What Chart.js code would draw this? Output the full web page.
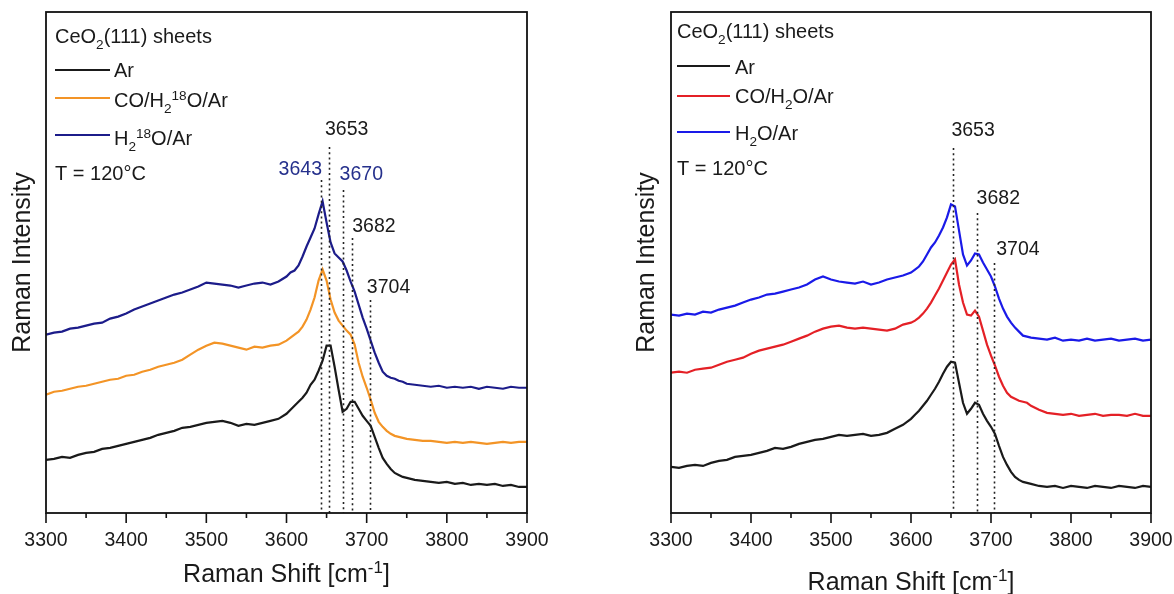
<!DOCTYPE html>
<html>
<head>
<meta charset="utf-8">
<title>Raman spectra - CeO2(111) sheets</title>
<script src="https://cdn.jsdelivr.net/npm/chart.js@4.4.1/dist/chart.umd.min.js"></script>
<style>
  body { margin: 0; background: #fff; }
  #wrap { position: relative; width: 1174px; height: 594px; }
  #wrap canvas { position: absolute; top: 0; }
</style>
</head>
<body>
<div id="wrap">
  <canvas id="leftChart" width="587" height="594" style="left:0"></canvas>
  <canvas id="rightChart" width="587" height="594" style="left:587px"></canvas>
</div>
<script>
// Raman shift grid (cm-1), finer around the OH bands
const shift = [3300,3310,3320,3330,3340,3350,3360,3370,3380,3390,
  3400,3410,3420,3430,3440,3450,3460,3470,3480,3490,
  3500,3510,3520,3530,3540,3550,3560,3570,3580,3590,
  3600,3605,3610,3615,3620,3625,3630,3635,3640,3645,
  3650,3655,3660,3665,3670,3675,3680,3685,3690,3695,
  3700,3705,3710,3715,3720,3725,3730,3735,3740,3745,
  3750,3760,3770,3780,3790,3800,3810,3820,3830,3840,
  3850,3860,3870,3880,3890,3900];

// left panel: isotope exchange with H2 18O (intensities are offset, a.u.)
const leftAr = [53,54,56,55,58,60,61,64,65,67,
  69,71,73,75,78,80,82,85,86,88,
  90,91,92,90,87,89,88,90,92,94,
  99,103,107,111,115,120,128,133,142,152,
  167,167,146,123,101,104,111,111,104,97,
  92,87,76,65,55,49,44,40,38,36,
  35,33,32,31,30,31,29,30,28,29,
  28,29,27,28,26,26];
const leftCO = [118,121,122,124,126,127,129,131,133,134,
  137,138,141,143,146,148,150,153,158,163,
  167,170,169,167,165,163,166,165,167,168,
  172,175,178,181,186,193,203,215,232,243,
  232,213,200,192,187,182,178,168,150,136,
  125,113,100,91,86,82,79,77,76,75,
  74,73,72,72,71,70,71,70,71,70,
  69,70,71,70,71,71];
const leftH2O = [178,180,181,184,185,187,189,190,194,196,
  199,203,206,209,212,215,218,220,223,226,
  230,229,228,227,225,227,229,230,228,231,
  236,240,242,247,256,266,275,284,298,311,
  290,270,259,255,251,242,231,221,208,195,
  184,172,160,150,141,137,135,134,132,131,
  129,128,127,126,127,125,126,125,126,124,
  126,125,124,126,125,125];

// right panel: H2O (16O)
const rightAr = [46,45,47,48,47,50,52,53,56,57,
  58,60,62,65,64,66,69,71,73,74,
  76,78,77,78,79,77,78,80,84,88,
  94,98,102,107,112,118,124,131,139,146,
  151,150,130,110,99,104,110,108,99,92,
  86,79,67,56,48,41,36,33,31,30,
  29,27,26,27,25,27,26,25,27,26,
  25,27,26,25,27,26];
const rightCO = [140,141,140,143,144,145,148,151,153,155,
  159,162,164,166,168,171,174,177,181,184,
  186,187,185,184,185,184,183,182,184,188,
  190,192,195,199,204,210,217,224,232,240,
  248,253,228,210,198,197,202,196,182,168,
  157,147,136,127,120,116,114,112,111,110,
  107,103,100,99,98,99,97,98,99,97,
  98,98,97,99,97,97];
const rightH2O = [198,197,199,198,201,200,203,205,207,210,
  213,215,218,219,221,223,225,228,233,236,
  233,231,230,229,231,228,230,233,235,237,
  240,243,246,251,258,265,270,277,285,295,
  308,306,282,258,247,252,259,258,250,243,
  236,226,214,204,196,190,185,181,177,176,
  175,174,173,175,172,173,172,174,172,173,
  174,172,173,174,172,173];

// marked band positions (cm-1)
const leftPeaks = [3643, 3653, 3670, 3682, 3704];
const rightPeaks = [3653, 3682, 3704];

const FONT = '"Liberation Sans", Arial, Helvetica, sans-serif';
const INK = '#1a1a1a';
const NAVY = '#1c1c8a';
const NAVY_TEXT = '#25308c';
const ORANGE = '#f39426';
const RED = '#e42026';
const BLUE = '#1a1ae8';

Chart.defaults.font.family = FONT;

// text with sub/superscript pieces: parts = [[text, 'sub'|'sup'|undefined], ...]
function drawRich(ctx, parts, x, y, size, align) {
  const small = size * 0.68;
  const fontOf = k => (k ? small : size) + 'px ' + FONT;
  const lift = k => (k === 'sub' ? size * 0.3 : k === 'sup' ? -size * 0.36 : 0);
  let total = 0;
  const widths = parts.map(([t, k]) => {
    ctx.font = fontOf(k);
    const w = ctx.measureText(t).width;
    total += w;
    return w;
  });
  let cx = align === 'center' ? x - total / 2 : align === 'right' ? x - total : x;
  ctx.textAlign = 'left';
  ctx.textBaseline = 'alphabetic';
  parts.forEach(([t, k], i) => {
    ctx.font = fontOf(k);
    ctx.fillText(t, cx, y + lift(k));
    cx += widths[i];
  });
}

// frame, ticks, legend, band markers and x title
function decorations(p) {
  return {
    id: 'decorations',
    afterDatasetsDraw(chart) {
      const ctx = chart.ctx;
      const area = chart.chartArea;
      const xs = chart.scales.x;
      ctx.save();

      // dotted band markers
      ctx.strokeStyle = '#222';
      ctx.lineWidth = 1.6;
      ctx.setLineDash([2, 3.2]);
      p.marks.forEach(m => {
        const px = Math.round(xs.getPixelForValue(m.at)) + 0.5;
        ctx.beginPath();
        ctx.moveTo(px, m.top);
        ctx.lineTo(px, area.bottom);
        ctx.stroke();
      });
      ctx.setLineDash([]);

      // box
      ctx.strokeStyle = '#111';
      ctx.lineWidth = 1.8;
      ctx.strokeRect(area.left, area.top, area.right - area.left, area.bottom - area.top);

      // outward ticks, major every 100, minor every 50
      ctx.lineWidth = 1.6;
      for (let v = 3300; v <= 3900; v += 50) {
        const px = xs.getPixelForValue(v);
        const len = v % 100 === 0 ? 10 : 5;
        ctx.beginPath();
        ctx.moveTo(px, area.bottom);
        ctx.lineTo(px, area.bottom + len);
        ctx.stroke();
      }

      // band labels
      ctx.font = '19.5px ' + FONT;
      ctx.textBaseline = 'alphabetic';
      p.marks.forEach(m => {
        const px = xs.getPixelForValue(m.at);
        ctx.fillStyle = m.color;
        ctx.textAlign = m.align;
        ctx.fillText(String(m.at), px + m.dx, m.textY);
      });

      // legend block
      ctx.fillStyle = INK;
      const L = p.legend;
      drawRich(ctx, [['CeO'], ['2', 'sub'], ['(111) sheets']], L.x, L.titleY, 20);
      chart.data.datasets.forEach((ds, i) => {
        const row = L.rows[i];
        ctx.strokeStyle = ds.borderColor;
        ctx.lineWidth = 2.2;
        ctx.beginPath();
        ctx.moveTo(L.x, row.lineY);
        ctx.lineTo(L.x + L.lineLen, row.lineY);
        ctx.stroke();
        ctx.fillStyle = INK;
        drawRich(ctx, p.names[i], L.textX, row.textY, 20);
      });
      drawRich(ctx, [['T = 120°C']], L.x, L.tempY, 20);

      // x axis title
      drawRich(ctx, [['Raman Shift [cm'], ['-1', 'sup'], [']']],
        (area.left + area.right) / 2, p.xTitleY, 25, 'center');

      ctx.restore();
    }
  };
}

function buildChart(canvasId, p) {
  const ctx = document.getElementById(canvasId).getContext('2d');
  return new Chart(ctx, {
    type: 'line',
    data: {
      datasets: p.series.map(s => ({
        data: shift.map((x, i) => ({ x: x, y: s.values[i] })),
        borderColor: s.color,
        borderWidth: 2.2,
        pointRadius: 0,
        tension: 0,
        fill: false
      }))
    },
    options: {
      responsive: false,
      animation: false,
      events: [],
      layout: { padding: p.padding },
      plugins: { legend: { display: false }, tooltip: { enabled: false } },
      scales: {
        x: {
          type: 'linear',
          min: 3300,
          max: 3900,
          afterFit: s => { s.height = 81; },
          border: { display: false },
          // tick marks are drawn by the decorations plugin; tickLength only spaces the labels
          grid: { display: false, drawTicks: true, tickLength: 16 },
          ticks: {
            stepSize: 100,
            padding: 0,
            maxRotation: 0,
            color: INK,
            font: { size: 19.5 },
            callback: v => String(v)
          }
        },
        y: {
          min: 0,
          max: 500,
          afterFit: s => { s.width = p.yWidth; },
          border: { display: false },
          grid: { display: false, drawTicks: false },
          ticks: { display: false },
          title: {
            display: true,
            text: 'Raman Intensity',
            color: INK,
            font: { size: 25 },
            padding: { top: p.yTitlePad, bottom: 0 }
          }
        }
      }
    },
    plugins: [decorations(p)]
  });
}

buildChart('leftChart', {
  padding: { left: 0, top: 12, right: 60, bottom: 0 },
  yWidth: 46,
  yTitlePad: 8,
  xTitleY: 582,
  series: [
    { values: leftAr, color: INK },
    { values: leftCO, color: ORANGE },
    { values: leftH2O, color: NAVY }
  ],
  names: [
    [['Ar']],
    [['CO/H'], ['2', 'sub'], ['18', 'sup'], ['O/Ar']],
    [['H'], ['2', 'sub'], ['18', 'sup'], ['O/Ar']]
  ],
  legend: {
    x: 55, textX: 114, lineLen: 55, titleY: 43, tempY: 180,
    rows: [{ lineY: 70, textY: 77 }, { lineY: 98, textY: 107 }, { lineY: 135, textY: 145 }]
  },
  marks: [
    { at: leftPeaks[0], color: NAVY_TEXT, top: 180, textY: 175, dx: 1, align: 'right' },
    { at: leftPeaks[1], color: INK, top: 147, textY: 135, dx: -4, align: 'left' },
    { at: leftPeaks[2], color: NAVY_TEXT, top: 190, textY: 180, dx: -3, align: 'left' },
    { at: leftPeaks[3], color: INK, top: 238, textY: 232, dx: 0, align: 'left' },
    { at: leftPeaks[4], color: INK, top: 300, textY: 293, dx: -3, align: 'left' }
  ]
});

buildChart('rightChart', {
  padding: { left: 0, top: 12, right: 23, bottom: 0 },
  yWidth: 84,
  yTitlePad: 45,
  xTitleY: 590,
  series: [
    { values: rightAr, color: INK },
    { values: rightCO, color: RED },
    { values: rightH2O, color: BLUE }
  ],
  names: [
    [['Ar']],
    [['CO/H'], ['2', 'sub'], ['O/Ar']],
    [['H'], ['2', 'sub'], ['O/Ar']]
  ],
  legend: {
    x: 90, textX: 148, lineLen: 53, titleY: 38, tempY: 175,
    rows: [{ lineY: 66, textY: 74 }, { lineY: 96, textY: 103 }, { lineY: 132, textY: 140 }]
  },
  marks: [
    { at: rightPeaks[0], color: INK, top: 148, textY: 136, dx: -2, align: 'left' },
    { at: rightPeaks[1], color: INK, top: 213, textY: 204, dx: 0, align: 'left' },
    { at: rightPeaks[2], color: INK, top: 263, textY: 255, dx: 2, align: 'left' }
  ]
});
</script>
</body>
</html>
